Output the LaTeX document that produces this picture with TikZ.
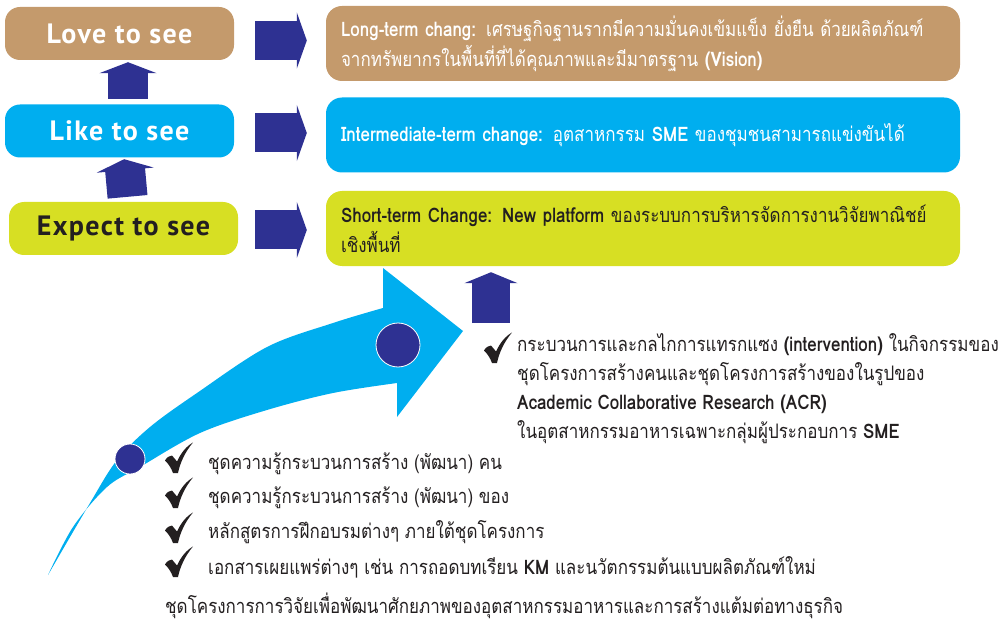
\documentclass[tikz,border=0pt]{standalone}
\usepackage{fontspec}
\setmainfont[Script=Thai,FakeStretch=0.85]{Loma}
\newfontfamily\labelfont[LetterSpace=5]{PT Sans}
\usetikzlibrary{arrows.meta}

\definecolor{tanbox}{HTML}{C49A6C}
\definecolor{cyanbox}{HTML}{00AEEF}
\definecolor{limebox}{HTML}{D7DF23}
\definecolor{arrowblue}{HTML}{2E3192}
\definecolor{darktext}{HTML}{231F20}

\tikzset{tickmark/.pic={
    \fill[darktext] (-14,2.5) .. controls (-11.5,-1) .. (-7,-2.5) -- (-2,3.5)
        .. controls (2,-5) and (7,-11.5) .. (14,-15.5)
        .. controls (6,-6) and (1,5) .. (-1,15) -- (-6,15)
        .. controls (-8,9.5) and (-10.5,6) .. (-14,2.5) -- cycle;
}}

\begin{document}
\begin{tikzpicture}[x=1pt,y=-1pt]
\useasboundingbox (0,0) rectangle (1003,620);

\begin{scope}[every node/.style={rounded corners=15pt,minimum width=229pt,minimum height=53pt,inner sep=0pt,
              font=\labelfont\bfseries\fontsize{28}{30}\selectfont}]
    \node[fill=tanbox,text=white] (love) at (119.5,33.5) {Love to see};
    \node[fill=cyanbox,text=white] (like) at (119.5,131) {Like to see};
    \node[fill=limebox,text=darktext] (expect) at (123.5,228.5) {Expect to see};
\end{scope}

\begin{scope}[every node/.style={rounded corners=16pt,minimum width=634pt,minimum height=75pt,inner sep=0pt,
              text width=604pt,align=left,font=\fontsize{20}{30}\selectfont}]
    \node[fill=tanbox,text=white] (longterm) at (643,43.5) {\textbf{Long-term chang:} เศรษฐกิจฐานรากมีความมั่นคงเข้มแข็ง ยั่งยืน ด้วยผลิตภัณฑ์\\จากทรัพยากรในพื้นที่ที่ได้คุณภาพและมีมาตรฐาน \textbf{(Vision)}};
    \node[fill=cyanbox,text=white] (midterm) at (643,135) {\textbf{Intermediate-term change:} อุตสาหกรรม \textbf{SME} ของชุมชนสามารถแข่งขันได้};
    \node[fill=limebox,text=darktext] (shortterm) at (643,228.5) {\textbf{Short-term Change: New platform} ของระบบการบริหารจัดการงานวิจัยพาณิชย์\\เชิงพื้นที่};
\end{scope}

\fill[cyanbox] plot[smooth,tension=0.55] coordinates {(48,575) (90,503) (117,460) (150,427) (197,393) (267,347) (333,323) (383,308)}
    -- (383,268) -- (463,331) -- (397,417) -- (397,383)
    -- plot[smooth,tension=0.55] coordinates {(397,383) (333,393) (267,410) (200,433) (140,467) (107,487) (73,527) (48,575)} -- cycle;

\begin{scope}[every node/.style={circle,fill=arrowblue,draw=white,thick,inner sep=0pt}]
    \node[minimum size=30pt] (dotone) at (130,459) {};
    \node[minimum size=44pt] (dottwo) at (398,345) {};
\end{scope}

\begin{scope}[every node/.style={anchor=west,inner sep=0pt,text=darktext,font=\fontsize{20}{29}\selectfont}]
    \node[align=left] (acr) at (517,389) {กระบวนการและกลไกการแทรกแซง \textbf{(intervention)} ในกิจกรรมของ\\ชุดโครงการสร้างคนและชุดโครงการสร้างของในรูปของ\\\textbf{Academic Collaborative Research (ACR)}\\ในอุตสาหกรรมอาหารเฉพาะกลุ่มผู้ประกอบการ \textbf{SME}};
    \node (people) at (208,464) {ชุดความรู้กระบวนการสร้าง (พัฒนา) คน};
    \node (goods) at (208,498) {ชุดความรู้กระบวนการสร้าง (พัฒนา) ของ};
    \node (course) at (208,532) {หลักสูตรการฝึกอบรมต่างๆ ภายใต้ชุดโครงการ};
    \node (docs) at (208,567) {เอกสารเผยแพร่ต่างๆ เช่น การถอดบทเรียน \textbf{KM} และนวัตกรรมต้นแบบผลิตภัณฑ์ใหม่};
    \node[anchor=base west] (program) at (165,613) {ชุดโครงการการวิจัยเพื่อพัฒนาศักยภาพของอุตสาหกรรมอาหารและการสร้างแต้มต่อทางธุรกิจ};
\end{scope}

\pic (tickacr) at (498,348) {tickmark};
\pic (tickpeople) at (179,458) {tickmark};
\pic (tickgoods) at (179,493) {tickmark};
\pic (tickcourse) at (179,528) {tickmark};
\pic (tickdocs) at (179,562) {tickmark};

\begin{scope}[arrowblue,line width=39pt,-{Triangle[width=56pt,length=10pt]}]
    \draw[shorten <=21pt,shorten >=19pt] (love.east |- 0,40.5) -- (longterm.west |- 0,40.5);
    \draw[shorten <=21pt,shorten >=19pt] (like.east |- 0,133) -- (midterm.west |- 0,133);
    \draw[shorten <=17pt,shorten >=19pt] (expect.east |- 0,230) -- (shortterm.west |- 0,230);
\end{scope}

\begin{scope}[arrowblue,line width=40pt,-{Triangle[width=57pt,length=11pt]}]
    \draw[shorten <=5.5pt,shorten >=2pt] ([xshift=8.5pt]like.north) -- ([xshift=8.5pt]love.south);
    \draw[shorten <=5pt,shorten >=1.5pt] ([xshift=4.5pt]expect.north) -- ([xshift=4.5pt]like.south);
\end{scope}

\coordinate (acrtop) at (491,323);
\draw[arrowblue,line width=38pt,-{Triangle[width=53pt,length=11pt]},shorten >=6pt] (acrtop) -- (shortterm.south -| acrtop);
\end{tikzpicture}
\end{document}
